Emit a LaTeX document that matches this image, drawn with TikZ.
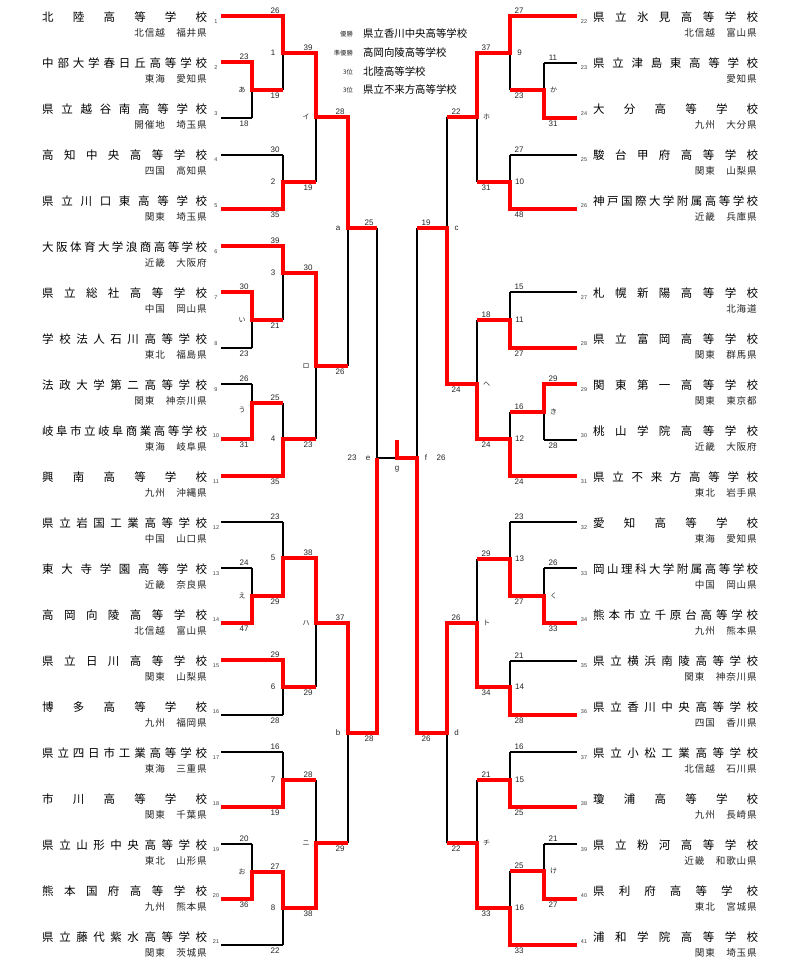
\documentclass[tikz,border=0pt]{standalone}
\usepackage{fontspec}
\setmainfont{Liberation Sans}
\newfontfamily\jp{Noto Sans CJK JP}
\newfontfamily\jpsub[LetterSpace=9]{Noto Sans CJK JP}
\makeatletter
\newcommand\spreadname[1]{\hbox to 165pt{\@tfor\sp@ch:=#1\do{\sp@ch\hfill}\unskip}}
\makeatother
\newcommand\kn[1]{{\jp\fontsize{7}{8}\selectfont #1}}
\newcounter{labc}
\pgfdeclarelayer{fg}
\pgfsetlayers{main,fg}
\tikzset{
  ln/.style={black, line width=1.3pt},
  win/.style={red, line width=4pt, line join=miter},
  tname/.style={font=\jp\fontsize{11.5}{12}\selectfont, inner sep=0pt, text=black},
  tsub/.style={font=\jpsub\fontsize{9.6}{10}\selectfont, inner sep=0pt, text=black!85},
  tnum/.style={font=\fontsize{5.5}{6}\selectfont, inner sep=0pt, text=black!75},
  score/.style={font=\fontsize{8}{9}\selectfont, inner sep=0pt, text=black!85},
  glab/.style={font=\fontsize{8}{9}\selectfont, inner sep=0pt, text=black!85},
  legl/.style={font=\jp\fontsize{6.3}{7}\selectfont, inner sep=0pt, text=black!85},
  legt/.style={font=\jp\fontsize{10.4}{11}\selectfont, inner sep=0pt, text=black},
}
% team on the left: no, name y, line y, junction x, name, sub
\newcommand\teamL[6]{%
  \draw[ln] (221,#3) -- (#4,#3);
  \begin{pgfonlayer}{fg}
  \node[tname, anchor=west] (nL#1) at (42,#2) {\spreadname{#5}};
  \node[tsub, anchor=east] (sL#1) at (207,#2+15) {#6};
  \node[tnum] (kL#1) at (216,#2+4) {#1};
  \end{pgfonlayer}}
\newcommand\teamR[6]{%
  \draw[ln] (577,#3) -- (#4,#3);
  \begin{pgfonlayer}{fg}
  \node[tname, anchor=west] (nR#1) at (593,#2) {\spreadname{#5}};
  \node[tsub, anchor=east] (sR#1) at (757,#2+15) {#6};
  \node[tnum] (kR#1) at (584,#2+4) {#1};
  \end{pgfonlayer}}
% game: x, ytop, ybot, yout, xnext, label, score top, score bottom
\newcommand\gameL[8]{%
  \draw[ln] (#1,#2) -- (#1,#3);
  \draw[ln] (#1,#4) -- (#5,#4);
  \stepcounter{labc}%
  \begin{pgfonlayer}{fg}
  \node[score] (st\thelabc) at (#1-8,#2-5) {#7};
  \node[score] (sb\thelabc) at (#1-8,#3+6) {#8};
  \node[glab] (gl\thelabc) at (#1-10,#4) {#6};
  \end{pgfonlayer}}
\newcommand\gameR[8]{%
  \draw[ln] (#1,#2) -- (#1,#3);
  \draw[ln] (#1,#4) -- (#5,#4);
  \stepcounter{labc}%
  \begin{pgfonlayer}{fg}
  \node[score] (st\thelabc) at (#1+9,#2-5) {#7};
  \node[score] (sb\thelabc) at (#1+9,#3+6) {#8};
  \node[glab] (gl\thelabc) at (#1+9.5,#4) {#6};
  \end{pgfonlayer}}
\begin{document}
\begin{tikzpicture}[x=1pt,y=-1pt]
\fill[white] (0,0) rectangle (800,965);
\useasboundingbox (0,0) rectangle (800,965);

% ---------- left teams
\teamL{1}{17.5}{16}{283}{北陸高等学校}{北信越　福井県}
\teamL{2}{63.5}{62}{252}{中部大学春日丘高等学校}{東海　愛知県}
\teamL{3}{109.5}{118}{252}{県立越谷南高等学校}{開催地　埼玉県}
\teamL{4}{155.5}{155}{283}{高知中央高等学校}{四国　高知県}
\teamL{5}{201.5}{209}{283}{県立川口東高等学校}{関東　埼玉県}
\teamL{6}{247.5}{246}{283}{大阪体育大学浪商高等学校}{近畿　大阪府}
\teamL{7}{293.5}{292}{252}{県立総社高等学校}{中国　岡山県}
\teamL{8}{339.5}{348}{252}{学校法人石川高等学校}{東北　福島県}
\teamL{9}{385.5}{384}{252}{法政大学第二高等学校}{関東　神奈川県}
\teamL{10}{431.5}{439}{252}{岐阜市立岐阜商業高等学校}{東海　岐阜県}
\teamL{11}{477.5}{476}{283}{興南高等学校}{九州　沖縄県}
\teamL{12}{523.5}{522}{283}{県立岩国工業高等学校}{中国　山口県}
\teamL{13}{569.5}{568}{252}{東大寺学園高等学校}{近畿　奈良県}
\teamL{14}{615.5}{623}{252}{高岡向陵高等学校}{北信越　富山県}
\teamL{15}{661.5}{660}{283}{県立日川高等学校}{関東　山梨県}
\teamL{16}{707.5}{715}{283}{博多高等学校}{九州　福岡県}
\teamL{17}{753.5}{752}{283}{県立四日市工業高等学校}{東海　三重県}
\teamL{18}{799.5}{807}{283}{市川高等学校}{関東　千葉県}
\teamL{19}{845.5}{844}{252}{県立山形中央高等学校}{東北　山形県}
\teamL{20}{891.5}{899}{252}{熊本国府高等学校}{九州　熊本県}
\teamL{21}{937.5}{945}{283}{県立藤代紫水高等学校}{関東　茨城県}

% ---------- right teams
\teamR{22}{17.5}{16}{510}{県立氷見高等学校}{北信越　富山県}
\teamR{23}{63.5}{63}{544}{県立津島東高等学校}{愛知県}
\teamR{24}{109.5}{118}{544}{大分高等学校}{九州　大分県}
\teamR{25}{155.5}{155}{510}{駿台甲府高等学校}{関東　山梨県}
\teamR{26}{201.5}{209}{510}{神戸国際大学附属高等学校}{近畿　兵庫県}
\teamR{27}{293.5}{292}{510}{札幌新陽高等学校}{北海道}
\teamR{28}{339.5}{348}{510}{県立富岡高等学校}{関東　群馬県}
\teamR{29}{385.5}{384}{544}{関東第一高等学校}{関東　東京都}
\teamR{30}{431.5}{440}{544}{桃山学院高等学校}{近畿　大阪府}
\teamR{31}{477.5}{476}{510}{県立不来方高等学校}{東北　岩手県}
\teamR{32}{523.5}{522}{510}{愛知高等学校}{東海　愛知県}
\teamR{33}{569.5}{568}{544}{岡山理科大学附属高等学校}{中国　岡山県}
\teamR{34}{615.5}{623}{544}{熊本市立千原台高等学校}{九州　熊本県}
\teamR{35}{661.5}{661}{510}{県立横浜南陵高等学校}{関東　神奈川県}
\teamR{36}{707.5}{715}{510}{県立香川中央高等学校}{四国　香川県}
\teamR{37}{753.5}{752}{510}{県立小松工業高等学校}{北信越　石川県}
\teamR{38}{799.5}{807}{510}{瓊浦高等学校}{九州　長崎県}
\teamR{39}{845.5}{844}{544}{県立粉河高等学校}{近畿　和歌山県}
\teamR{40}{891.5}{899}{544}{県利府高等学校}{東北　宮城県}
\teamR{41}{937.5}{945}{510}{浦和学院高等学校}{関東　埼玉県}

% ---------- left games
\gameL{252}{62}{118}{90}{283}{\kn{あ}}{23}{18}
\gameL{283}{16}{90}{53}{316}{1}{26}{19}
\gameL{283}{155}{209}{182}{316}{2}{30}{35}
\gameL{316}{53}{182}{117}{348}{\kn{イ}}{39}{19}
\gameL{252}{292}{348}{320}{283}{\kn{い}}{30}{23}
\gameL{283}{246}{320}{273}{316}{3}{39}{21}
\gameL{252}{384}{439}{403}{283}{}{26}{31}
\gameL{283}{403}{476}{439}{316}{4}{25}{35}
\gameL{316}{273}{439}{366}{348}{\kn{ロ}}{30}{23}
\gameL{348}{117}{366}{228}{377}{a}{28}{26}
\gameL{252}{568}{623}{596}{283}{\kn{え}}{24}{47}
\gameL{283}{522}{596}{558}{316}{5}{23}{29}
\gameL{283}{660}{715}{687}{316}{6}{29}{28}
\gameL{316}{558}{687}{623}{348}{\kn{ハ}}{38}{29}
\gameL{283}{752}{807}{780}{316}{7}{16}{19}
\gameL{252}{844}{899}{872}{283}{\kn{お}}{20}{36}
\gameL{283}{872}{945}{908}{316}{8}{27}{22}
\gameL{316}{780}{908}{843}{348}{\kn{ニ}}{28}{38}
\gameL{348}{623}{843}{733}{377}{b}{37}{29}
\gameL{377}{228}{733}{458}{397}{}{25}{28}

% ---------- right games
\gameR{544}{63}{118}{90}{510}{\kn{か}}{11}{31}
\gameR{510}{16}{90}{53}{477}{9}{27}{23}
\gameR{510}{155}{209}{182}{477}{10}{27}{48}
\gameR{477}{53}{182}{117}{447}{\kn{ホ}}{37}{31}
\gameR{510}{292}{348}{320}{477}{11}{15}{27}
\gameR{544}{384}{440}{412}{510}{\kn{き}}{29}{28}
\gameR{510}{412}{476}{439}{477}{12}{16}{24}
\gameR{477}{320}{439}{384}{447}{\kn{ヘ}}{18}{24}
\gameR{447}{117}{384}{228}{417}{c}{22}{24}
\gameR{544}{568}{623}{596}{510}{\kn{く}}{26}{33}
\gameR{510}{522}{596}{559}{477}{13}{23}{27}
\gameR{510}{661}{715}{687}{477}{14}{21}{28}
\gameR{477}{559}{687}{623}{447}{\kn{ト}}{29}{34}
\gameR{510}{752}{807}{780}{477}{15}{16}{25}
\gameR{544}{844}{899}{871}{510}{\kn{け}}{21}{27}
\gameR{510}{871}{945}{908}{477}{16}{25}{33}
\gameR{477}{780}{908}{843}{447}{\kn{チ}}{21}{33}
\gameR{447}{623}{843}{733}{417}{d}{26}{22}
\gameR{417}{228}{733}{458}{397}{}{19}{26}

% ---------- winners' paths (red)
\draw[win] (221,16) -- (283,16) -- (283,53) -- (316,53) -- (316,117) -- (348,117) -- (348,228) -- (377,228);
\draw[win] (221,62) -- (252,62) -- (252,90) -- (283,90);
\draw[win] (221,209) -- (283,209) -- (283,182) -- (316,182);
\draw[win] (221,246) -- (283,246) -- (283,273) -- (316,273) -- (316,366) -- (348,366);
\draw[win] (221,292) -- (252,292) -- (252,320) -- (283,320);
\draw[win] (221,439) -- (252,439) -- (252,403) -- (283,403);
\draw[win] (221,476) -- (283,476) -- (283,439) -- (316,439);
\draw[win] (221,623) -- (252,623) -- (252,596) -- (283,596) -- (283,558) -- (316,558) -- (316,623) -- (348,623) -- (348,733) -- (377,733) -- (377,458);
\draw[win] (221,660) -- (283,660) -- (283,687) -- (316,687);
\draw[win] (221,807) -- (283,807) -- (283,780) -- (316,780);
\draw[win] (221,899) -- (252,899) -- (252,872) -- (283,872) -- (283,908) -- (316,908) -- (316,843) -- (348,843);
\draw[win] (577,16) -- (510,16) -- (510,53) -- (477,53) -- (477,117) -- (447,117);
\draw[win] (577,118) -- (544,118) -- (544,90) -- (510,90);
\draw[win] (577,209) -- (510,209) -- (510,182) -- (477,182);
\draw[win] (577,348) -- (510,348) -- (510,320) -- (477,320);
\draw[win] (577,384) -- (544,384) -- (544,412) -- (510,412);
\draw[win] (577,476) -- (510,476) -- (510,439) -- (477,439) -- (477,384) -- (447,384) -- (447,228) -- (417,228);
\draw[win] (577,623) -- (544,623) -- (544,596) -- (510,596) -- (510,559) -- (477,559);
\draw[win] (577,715) -- (510,715) -- (510,687) -- (477,687) -- (477,623) -- (447,623) -- (447,733) -- (417,733) -- (417,458) -- (397,458) -- (397,440);
\draw[win] (577,807) -- (510,807) -- (510,780) -- (477,780);
\draw[win] (577,899) -- (544,899) -- (544,871) -- (510,871);
\draw[win] (577,945) -- (510,945) -- (510,908) -- (477,908) -- (477,843) -- (447,843);

% ---------- final labels
\begin{pgfonlayer}{fg}
\node[glab] (lu) at (242,410) {\kn{う}};
\node[glab] (le) at (368,458) {e};
\node[score] (le2) at (352,458) {23};
\node[glab] (lf) at (426,458) {f};
\node[score] (lf2) at (441,458) {26};
\node[glab] (lg) at (397,469) {g};
% legend
\node[legl, anchor=east] (r1) at (353,34) {優勝};
\node[legt, anchor=west] (w1) at (363,34) {県立香川中央高等学校};
\node[legl, anchor=east] (r2) at (353,53) {準優勝};
\node[legt, anchor=west] (w2) at (363,53) {高岡向陵高等学校};
\node[legl, anchor=east] (r3) at (353,72) {3位};
\node[legt, anchor=west] (w3) at (363,72) {北陸高等学校};
\node[legl, anchor=east] (r4) at (353,90) {3位};
\node[legt, anchor=west] (w4) at (363,90) {県立不来方高等学校};
\end{pgfonlayer}
\end{tikzpicture}
\end{document}
